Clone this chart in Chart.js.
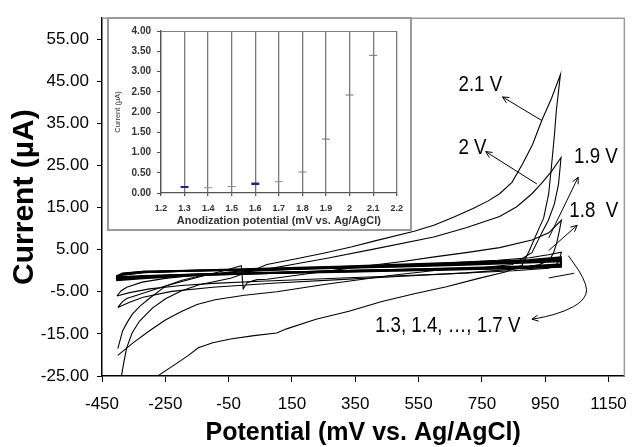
<!DOCTYPE html>
<html>
<head>
<meta charset="utf-8">
<script src="https://cdn.jsdelivr.net/npm/chart.js@4.4.0/dist/chart.umd.min.js"></script>
<style>
  html, body { margin: 0; padding: 0; background: #fff; }
  #wrap { position: relative; width: 639px; height: 447px; }
  #cvChart { position: absolute; left: 0; top: 0; }
  #inset { position: absolute; left: 107px; top: 17px; width: 301px; height: 210px;
           border: 2px solid #9a9a9a; background: #fff; }
  #inset canvas { display: block; }
</style>
</head>
<body>
<div id="wrap">
  <canvas id="cvChart" width="639" height="447"></canvas>
  <div id="inset"><canvas id="insetChart" width="301" height="210"></canvas></div>
</div>
<script>
// Cyclic voltammograms after anodization, [potential mV, current µA]
// each run: forward sweep to the vertex, then back to the start
const cv13 = [[-405,-1.3],[-385,-0.6],[-320,-0.2],[-150,0.0],[50,0.2],[290,0.6],[500,1.0],[700,1.4],[900,1.9],[1000,2.2],
  [1000,0.9],[900,0.6],[700,0.3],[500,0.0],[290,-0.3],[50,-0.6],[-150,-0.9],[-320,-1.2],[-405,-1.5]];
const cv14 = [[-405,-1.4],[-385,-0.7],[-320,-0.2],[-150,0.1],[50,0.3],[290,0.7],[500,1.1],[700,1.6],[900,2.1],[1000,2.5],
  [1000,1.1],[900,0.8],[700,0.4],[500,0.1],[290,-0.2],[50,-0.5],[-150,-0.8],[-320,-1.3],[-405,-1.7]];
const cv15 = [[-405,-1.6],[-385,-0.8],[-320,-0.3],[-150,0.0],[50,0.3],[290,0.8],[500,1.2],[700,1.7],[900,2.3],[1000,2.7],
  [1000,1.3],[900,0.9],[700,0.5],[500,0.2],[290,-0.1],[50,-0.5],[-150,-0.9],[-320,-1.4],[-405,-1.9]];
const cv16 = [[-405,-1.8],[-385,-0.9],[-320,-0.4],[-150,0.0],[50,0.4],[290,0.9],[500,1.3],[700,1.8],[900,2.4],[1000,2.9],
  [1000,1.4],[900,1.0],[700,0.6],[500,0.3],[290,-0.1],[50,-0.6],[-150,-1.0],[-320,-1.6],[-405,-2.1]];
const cv17 = [[-405,-2.0],[-385,-1.0],[-320,-0.4],[-150,0.1],[50,0.5],[290,1.0],[500,1.5],[700,2.0],[900,2.6],[1000,3.2],
  [1000,1.6],[900,1.1],[700,0.7],[500,0.3],[290,0.0],[50,-0.6],[-150,-1.1],[-320,-1.8],[-405,-2.3]];
const cv18 = [[-403,-6.0],[-390,-4.8],[-372,-3.9],[-323,-2.7],[-250,-1.8],[-150,-1.0],[0,-0.2],[200,0.5],[400,1.1],[600,1.7],
  [800,2.5],[900,3.1],[960,3.8],[1001,4.4],
  [995,2.6],[985,1.4],[960,0.6],[850,0.0],[650,-0.7],[450,-1.3],[250,-1.9],[50,-2.5],[-100,-3.0],[-200,-3.5],[-300,-4.3],
  [-363,-5.2],[-403,-6.0]];
const cv19 = [[-400,-8.7],[-386,-7.4],[-372,-6.6],[-323,-5.4],[-250,-3.6],[-150,-1.6],[-60,0.1],[-10,1.2],[-4,-4.3],[9,-2.8],
  [40,-2.1],[71,-2.0],[200,-0.7],[350,0.8],[500,2.2],[600,3.3],[700,4.3],[806,5.5],[908,7.3],[961,9.0],[1001,12.0],
  [995,9.6],[986,6.5],[976,4.2],[964,2.6],[930,1.4],[850,0.4],[700,-0.5],[500,-1.3],[300,-2.1],[100,-2.9],[-100,-3.9],
  [-230,-4.9],[-320,-6.3],[-363,-7.5],[-400,-8.7]];
const cv20 = [[-400,-18.5],[-385,-14.3],[-370,-12.2],[-354,-10.3],[-330,-8.4],[-301,-6.6],[-248,-3.6],[-200,-2.3],[-146,-1.3],
  [-50,-0.3],[71,0.4],[160,1.6],[257,2.9],[412,5.2],[598,8.0],[700,10.2],[806,12.9],[860,15.2],[908,18.3],[939,20.8],
  [970,23.6],[1000,26.9],
  [992,20.6],[979,15.9],[960,12.0],[939,9.0],[908,4.3],[846,1.5],[760,0.8],[629,0.3],[474,-1.0],[257,-3.2],[102,-5.0],
  [0,-5.8],[-93,-6.9],[-150,-8.0],[-199,-9.7],[-250,-11.7],[-301,-14.3],[-350,-17.0],[-400,-20.1]];
const cv21 = [[-405,-33],[-395,-28],[-388,-24.8],[-380,-21.3],[-372,-18.3],[-355,-14.8],[-332,-12.0],[-290,-8.8],[-248,-6.6],
  [-200,-4.8],[-146,-3.4],[-90,-2.5],[-44,-1.8],[30,0.2],[71,1.5],[160,2.8],[257,4.3],[340,5.7],[412,7.1],[536,9.4],
  [598,10.8],[660,12.7],[722,14.8],[770,16.6],[806,18.3],[845,21.0],[877,25.2],[910,30.0],[939,35.7],[970,41.0],[998,46.6],
  [985,38.0],[979,32.2],[970,25.0],[961,18.3],[945,12.5],[924,9.0],[900,4.8],[877,1.3],[824,-0.3],[740,-1.8],[638,-3.8],
  [540,-5.4],[434,-7.3],[330,-9.6],[226,-11.5],[133,-13.8],[102,-14.8],[30,-15.4],[-44,-16.2],[-100,-17.1],[-146,-18.3],
  [-177,-20.1],[-220,-22.3],[-270,-24.8],[-330,-29],[-405,-33]];

const bandCurves = [cv13, cv14, cv15, cv16, cv17];
const peakCurves = [cv18, cv19, cv20, cv21];

const xTickValues = [-450, -250, -50, 150, 350, 550, 750, 950, 1150];
const yTickValues = [-25, -15, -5, 5, 15, 25, 35, 45, 55];

// inset: current at each anodization potential
const insetPotential = [1.3, 1.4, 1.5, 1.6, 1.7, 1.8, 1.9, 2.0, 2.1];
const insetCurrent = [0.15, 0.13, 0.16, 0.23, 0.28, 0.52, 1.33, 2.42, 3.40];

// callouts: text anchor [mV, µA], arrows run from the curve to the label
const callouts = [
  { text: '2.1 V', at: [676, 44.1] },
  { text: '2 V', at: [676, 29.2] },
  { text: '1.9 V', at: [1041, 27.1] },
  { text: '1.8  V', at: [1026, 14.3] },
  { text: '1.3, 1.4, \u2026, 1.7 V', at: [412, -13.1] }
];
const arrows = [
  [[939, 35.7], [815, 41.3]],
  [[924, 20.6], [762, 28.3]],
  [[961, 7.8], [1054, 22.2]],
  [[961, 4.8], [1051, 10.8]],
  [[1054, 0.3], [1088, -3.8], [1069, -7.3], [1010, -9.7], [948, -11.0], [908, -11.5]]
];
const braceTop = [[1023, 3.6], [1054, 0.3]];
const braceFoot = [[961, -1.7], [1041, -0.6]];

Chart.defaults.font.family = 'Arial, "Liberation Sans", sans-serif';
Chart.defaults.color = '#000';

function strokePath(ctx, pts, smooth) {
  ctx.beginPath();
  ctx.moveTo(pts[0][0], pts[0][1]);
  if (!smooth || pts.length < 3) {
    for (let i = 1; i < pts.length; i++) ctx.lineTo(pts[i][0], pts[i][1]);
  } else {
    for (let i = 1; i < pts.length - 1; i++) {
      const mx = (pts[i][0] + pts[i + 1][0]) / 2, my = (pts[i][1] + pts[i + 1][1]) / 2;
      ctx.quadraticCurveTo(pts[i][0], pts[i][1], mx, my);
    }
    const last = pts[pts.length - 1];
    ctx.lineTo(last[0], last[1]);
  }
  ctx.stroke();
}

function arrowHead(ctx, from, to, len) {
  const ang = Math.atan2(to[1] - from[1], to[0] - from[0]);
  ctx.beginPath();
  ctx.moveTo(to[0] - len * Math.cos(ang - 0.45), to[1] - len * Math.sin(ang - 0.45));
  ctx.lineTo(to[0], to[1]);
  ctx.lineTo(to[0] - len * Math.cos(ang + 0.45), to[1] - len * Math.sin(ang + 0.45));
  ctx.stroke();
}

const notesPlugin = {
  id: 'notes',
  afterDraw(chart) {
    const { ctx, chartArea: a, scales: { x, y } } = chart;
    const px = p => [x.getPixelForValue(p[0]), y.getPixelForValue(p[1])];
    ctx.save();
    // grey frame on top and right
    ctx.strokeStyle = '#9a9a9a';
    ctx.lineWidth = 1.5;
    ctx.beginPath();
    ctx.moveTo(a.left, a.top);
    ctx.lineTo(a.right, a.top);
    ctx.lineTo(a.right, a.bottom);
    ctx.stroke();

    ctx.strokeStyle = '#000';
    ctx.lineWidth = 1;
    arrows.forEach((arr, i) => {
      const pts = arr.map(px);
      strokePath(ctx, pts, i === arrows.length - 1);
      arrowHead(ctx, pts[pts.length - 2], pts[pts.length - 1], 7);
    });
    strokePath(ctx, braceTop.map(px), false);
    strokePath(ctx, braceFoot.map(px), false);

    // narrow label text
    const sx = 0.85;
    ctx.fillStyle = '#000';
    ctx.font = '22px Arial, "Liberation Sans", sans-serif';
    ctx.textBaseline = 'middle';
    ctx.textAlign = 'left';
    callouts.forEach(c => {
      const p = px(c.at);
      ctx.save();
      ctx.translate(p[0], p[1]);
      ctx.scale(sx, 1);
      ctx.fillText(c.text, 0, 0);
      ctx.restore();
    });
    ctx.restore();
  }
};

const lineSet = (pts, w) => ({
  data: pts,
  showLine: true,
  pointRadius: 0,
  borderColor: '#000',
  borderWidth: w,
  tension: 0
});

new Chart(document.getElementById('cvChart'), {
  type: 'scatter',
  data: {
    datasets: bandCurves.map(p => lineSet(p, 1.7)).concat(peakCurves.map(p => lineSet(p, 1.1)))
  },
  options: {
    responsive: false,
    animation: false,
    devicePixelRatio: 1,
    layout: { padding: { left: 4, right: 6, top: 10, bottom: 0 } },
    plugins: { legend: { display: false }, tooltip: { enabled: false } },
    scales: {
      x: {
        type: 'linear',
        min: -450,
        max: 1200,
        afterBuildTicks: s => { s.ticks = xTickValues.map(v => ({ value: v })); },
        afterFit: s => { s.height = 71; },
        ticks: { font: { size: 17 }, padding: 12, maxRotation: 0, autoSkip: false, callback: v => String(v) },
        grid: { display: true, drawOnChartArea: false, drawTicks: true, tickLength: 6, tickColor: '#000', lineWidth: 1 },
        border: { display: true, color: '#000', width: 1.5 },
        title: {
          display: true,
          text: 'Potential (mV vs. Ag/AgCl)',
          font: { size: 25, weight: 'bold', lineHeight: 1 },
          padding: { top: 0, bottom: 1 }
        }
      },
      y: {
        type: 'linear',
        min: -25,
        max: 60,
        afterBuildTicks: s => { s.ticks = yTickValues.map(v => ({ value: v })); },
        afterFit: s => { s.width = 98; },
        ticks: { font: { size: 17 }, padding: 8, callback: v => v.toFixed(2) },
        grid: { display: true, drawOnChartArea: false, drawTicks: true, tickLength: 5, tickColor: '#000', lineWidth: 1 },
        border: { display: true, color: '#000', width: 1.5 },
        title: {
          display: true,
          text: 'Current (\u00b5A)',
          font: { size: 30, weight: 'bold' },
          padding: { top: 3, bottom: 0 }
        }
      }
    }
  },
  plugins: [notesPlugin]
});

// inset chart
const markerColors = ['#25257a', '#8a8a9e', '#8a8aa8', '#25257a', '#8a8a9e', '#7a7a96', '#6a6a9c', '#6a6a9c', '#6a6a9c'];
const markerWidths = [2, 1, 1, 2.5, 1, 1, 1, 1, 1];

const insetFrame = {
  id: 'insetFrame',
  beforeDatasetsDraw(chart) {
    const { ctx, chartArea: a } = chart;
    ctx.save();
    ctx.strokeStyle = '#808080';
    ctx.lineWidth = 1;
    ctx.beginPath();
    ctx.moveTo(a.left, a.top + 0.5);
    ctx.lineTo(a.right, a.top + 0.5);
    ctx.stroke();
    ctx.restore();
  }
};

new Chart(document.getElementById('insetChart'), {
  type: 'scatter',
  data: {
    datasets: [{
      data: insetPotential.map((v, i) => ({ x: v, y: insetCurrent[i] })),
      pointStyle: 'line',
      pointRadius: 4,
      pointBorderColor: markerColors,
      pointBorderWidth: markerWidths,
      pointBackgroundColor: markerColors
    }]
  },
  options: {
    responsive: false,
    animation: false,
    devicePixelRatio: 1,
    layout: { padding: { left: 0, right: 12, top: 11, bottom: 0 } },
    plugins: { legend: { display: false }, tooltip: { enabled: false } },
    scales: {
      x: {
        type: 'linear',
        min: 1.2,
        max: 2.2,
        afterFit: s => { s.height = 36; },
        ticks: {
          stepSize: 0.1,
          font: { size: 9, weight: 'bold' },
          color: '#333',
          padding: 7,
          maxRotation: 0,
          autoSkip: false,
          callback: v => String(Math.round(v * 10) / 10)
        },
        grid: { color: '#7a7a7a', lineWidth: 1.3, drawTicks: true, tickLength: 3, tickColor: '#555' },
        border: { display: true, color: '#555', width: 1.3 },
        title: {
          display: true,
          text: 'Anodization potential (mV vs. Ag/AgCl)',
          font: { size: 11, weight: 'bold', lineHeight: 1 },
          color: '#333',
          padding: { top: 0, bottom: 2.5 }
        }
      },
      y: {
        type: 'linear',
        min: 0,
        max: 4,
        afterFit: s => { s.width = 52; },
        ticks: {
          stepSize: 0.5,
          font: { size: 10, weight: 'bold' },
          color: '#333',
          padding: 6,
          callback: v => v.toFixed(2)
        },
        grid: { display: true, drawOnChartArea: false, drawTicks: true, tickLength: 4, tickColor: '#555' },
        border: { display: true, color: '#555', width: 1.3 },
        title: {
          display: true,
          text: 'Current (\u00b5A)',
          font: { size: 7.5 },
          color: '#333',
          padding: { top: 4.5, bottom: 0 }
        }
      }
    }
  },
  plugins: [insetFrame]
});
</script>
</body>
</html>
